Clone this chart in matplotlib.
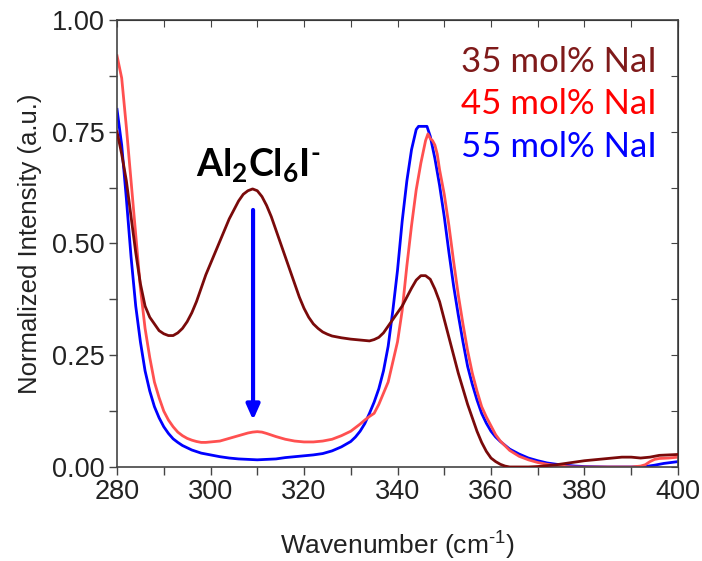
import numpy as np
import matplotlib
matplotlib.use('Agg')
import matplotlib.pyplot as plt
from matplotlib.ticker import MultipleLocator

plt.rcParams['font.family'] = ['Liberation Sans', 'DejaVu Sans']
plt.rcParams['mathtext.fontset'] = 'custom'
plt.rcParams['mathtext.rm'] = 'Liberation Sans'
plt.rcParams['mathtext.bf'] = 'Lato:bold'

# 35 mol% NaI
x35 = [280, 281, 282, 283, 284, 285, 286, 287, 288, 289, 290, 291, 292, 293, 294, 295,
       296, 297, 298, 299, 300, 301, 302, 303, 304, 305, 306, 307, 308, 309, 310, 311,
       312, 313, 314, 315, 316, 317, 318, 319, 320, 321, 322, 323, 324, 325, 326, 328,
       330, 332, 334, 335, 336, 337, 338, 339, 340, 341, 342, 343, 344, 345, 346, 347,
       348, 349, 350, 351, 352, 353, 354, 355, 356, 357, 358, 359, 360, 361, 362, 363,
       364, 366, 368, 370, 372, 374, 376, 378, 380, 382, 384, 386, 388, 390, 392, 394,
       396, 398, 400]
y35 = [0.75, 0.70, 0.64, 0.56, 0.48, 0.41, 0.36, 0.335, 0.32, 0.305, 0.298, 0.294, 0.294,
       0.30, 0.31, 0.325, 0.345, 0.37, 0.40, 0.43, 0.455, 0.48, 0.505, 0.53, 0.555, 0.575,
       0.595, 0.61, 0.618, 0.622, 0.618, 0.605, 0.585, 0.56, 0.53, 0.50, 0.47, 0.44, 0.41,
       0.38, 0.355, 0.335, 0.32, 0.31, 0.302, 0.297, 0.293, 0.289, 0.286, 0.284, 0.282,
       0.285, 0.29, 0.30, 0.315, 0.33, 0.345, 0.36, 0.38, 0.40, 0.418, 0.428, 0.428, 0.42,
       0.398, 0.37, 0.33, 0.29, 0.25, 0.21, 0.175, 0.14, 0.11, 0.08, 0.055, 0.035, 0.02,
       0.012, 0.006, 0.002, 0.0, 0.0, 0.0, 0.001, 0.003, 0.005, 0.008, 0.011, 0.014, 0.016,
       0.018, 0.02, 0.022, 0.022, 0.02, 0.022, 0.026, 0.027, 0.028]

# 45 mol% NaI
x45 = [280, 281, 282, 283, 284, 285, 286, 287, 288, 289, 290, 291, 292, 293, 294, 295,
       296, 297, 298, 299, 300, 302, 304, 306, 308, 309, 310, 311, 312, 314, 316, 318,
       320, 322, 324, 326, 328, 330, 331, 332, 333, 334, 335, 336, 337, 338, 339, 340,
       341, 342, 343, 344, 345, 346, 346.5, 347, 347.5, 348, 348.5, 349, 350, 351, 352,
       353, 354, 355, 356, 357, 358, 359, 360, 361, 362, 364, 366, 368, 370, 372, 374,
       376, 378, 380, 385, 390, 392, 393, 394, 395, 396, 398, 400]
y45 = [0.92, 0.87, 0.76, 0.64, 0.52, 0.40, 0.31, 0.245, 0.19, 0.155, 0.125, 0.105, 0.09,
       0.078, 0.07, 0.064, 0.06, 0.057, 0.055, 0.055, 0.056, 0.058, 0.064, 0.07, 0.076,
       0.078, 0.079, 0.078, 0.075, 0.068, 0.062, 0.058, 0.056, 0.056, 0.058, 0.062, 0.07,
       0.08, 0.088, 0.096, 0.105, 0.113, 0.12, 0.14, 0.165, 0.19, 0.235, 0.28, 0.35, 0.45,
       0.54, 0.62, 0.68, 0.73, 0.745, 0.735, 0.73, 0.72, 0.70, 0.665, 0.61, 0.54, 0.46,
       0.385, 0.32, 0.26, 0.21, 0.17, 0.135, 0.112, 0.092, 0.072, 0.058, 0.037, 0.024,
       0.016, 0.01, 0.006, 0.003, 0.001, 0.0, 0.0, 0.0, 0.0, 0.002, 0.005, 0.012, 0.017,
       0.019, 0.02, 0.022]

# 55 mol% NaI
x55 = [280, 281, 282, 283, 284, 285, 286, 287, 288, 289, 290, 291, 292, 293, 294, 295,
       296, 298, 300, 302, 304, 306, 308, 310, 312, 314, 316, 318, 320, 322, 324, 326,
       328, 330, 331, 332, 333, 334, 335, 336, 337, 338, 339, 340, 341, 342, 343, 344,
       344.5, 346.3, 347, 348, 349, 350, 351, 352, 353, 354, 355, 356, 357, 358, 359, 360,
       361, 362, 364, 366, 368, 370, 372, 374, 376, 378, 380, 385, 390, 393, 395, 397, 400]
y55 = [0.80, 0.72, 0.60, 0.47, 0.36, 0.28, 0.215, 0.17, 0.135, 0.11, 0.09, 0.075, 0.063,
       0.055, 0.048, 0.043, 0.038, 0.031, 0.027, 0.023, 0.02, 0.018, 0.017, 0.016, 0.017,
       0.018, 0.021, 0.023, 0.025, 0.027, 0.03, 0.036, 0.045, 0.057, 0.067, 0.08, 0.097,
       0.12, 0.145, 0.175, 0.215, 0.27, 0.35, 0.44, 0.55, 0.64, 0.71, 0.755, 0.762, 0.762,
       0.74, 0.69, 0.63, 0.56, 0.48, 0.405, 0.34, 0.28, 0.225, 0.185, 0.15, 0.12, 0.098,
       0.08, 0.067, 0.057, 0.04, 0.029, 0.02, 0.014, 0.009, 0.006, 0.004, 0.002, 0.001,
       0.0, 0.0, 0.001, 0.004, 0.008, 0.012]

labels = ['35 mol% NaI', '45 mol% NaI', '55 mol% NaI']
line_colors = ['#7a0a0a', '#ff5050', '#0000ff']
text_colors = ['#7f1a1a', '#ff0000', '#0000ff']

fig = plt.figure(figsize=(7.02, 5.61), dpi=100)
ax = fig.add_axes([0.1667, 0.1676, 0.7991, 0.7968])

ax.plot(x35, y35, color=line_colors[0], lw=2.0, zorder=3)
ax.plot(x55, y55, color=line_colors[2], lw=2.0, zorder=2)
ax.plot(x45, y45, color=line_colors[1], lw=2.0, zorder=2.5)

ax.set_xlim(280, 400)
ax.set_ylim(0, 1.0)
ax.xaxis.set_major_locator(MultipleLocator(20))
ax.xaxis.set_minor_locator(MultipleLocator(10))
ax.yaxis.set_major_locator(MultipleLocator(0.25))
ax.yaxis.set_minor_locator(MultipleLocator(0.125))
ax.yaxis.set_major_formatter(plt.FormatStrFormatter('%.2f'))

for sp in ax.spines.values():
    sp.set_color('#444444')
    sp.set_linewidth(1.2)

ax.tick_params(which='both', direction='out', top=False, right=False,
               color='#444444', width=1.0, labelsize=19.5, labelcolor='#222222')
ax.tick_params(which='major', length=6, pad=3)
ax.tick_params(which='minor', length=6)
# inner ticks on top and right
ax2 = ax.secondary_xaxis('top')
ax2.xaxis.set_major_locator(MultipleLocator(10))
ax2.tick_params(direction='in', length=5, color='#444444', labeltop=False)
ax3 = ax.secondary_yaxis('right')
ax3.yaxis.set_major_locator(MultipleLocator(0.125))
ax3.tick_params(direction='in', length=5, color='#444444', labelright=False)

ax.set_xlabel('Wavenumber (cm$^{\u20101}$)', fontsize=19, color='#222222')
ax.set_ylabel('Normalized Intensity (a.u.)', fontsize=18.5, color='#222222')
ax.xaxis.set_label_coords(0.5, -0.137)
ax.yaxis.set_label_coords(-0.134, 0.5)

for i, (lab, c) in enumerate(zip(labels, text_colors)):
    ax.text(0.963, 0.907 - i * 0.096, lab, transform=ax.transAxes, ha='right',
            va='center', fontsize=25, color=c, family=['Lato', 'DejaVu Sans'])

ax.text(0.14, 0.65, '$\\mathbf{Al_2Cl_6I^{\u2010}}$', transform=ax.transAxes,
        fontsize=27, color='black')

ax.annotate('', xy=(309.1, 0.105), xytext=(309.1, 0.575),
            arrowprops=dict(arrowstyle='-|>,head_width=0.4,head_length=0.9',
                            color='#0000ff', lw=3, shrinkA=0, shrinkB=0))

plt.savefig('out.png', dpi=100)
